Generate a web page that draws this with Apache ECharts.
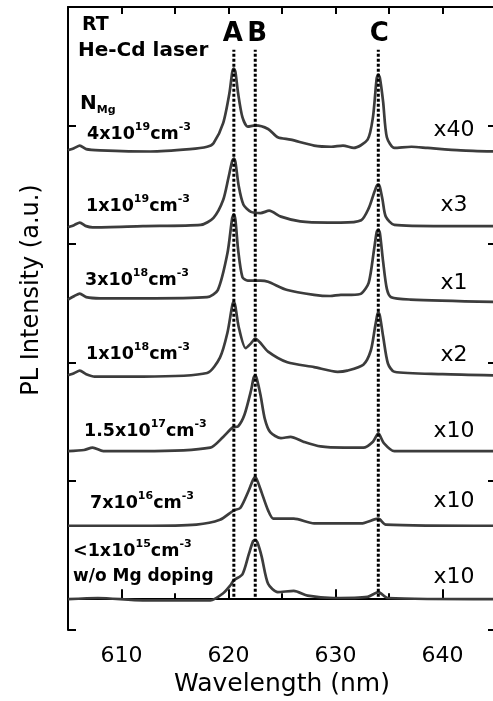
<!DOCTYPE html>
<html>
<head>
<meta charset="utf-8">
<script src="https://cdn.jsdelivr.net/npm/echarts@6/dist/echarts.min.js"></script>
<style>
  html, body { margin: 0; padding: 0; background: #fff; }
  #chart { width: 493px; height: 701px; }
</style>
</head>
<body>
<div id="chart"></div>
<script>
// PL spectra, [wavelength nm, stacked intensity a.u.], top to bottom
const pl4e19 = [
  [605.0, 3.79], [605.6, 3.81], [606.1, 3.83], [606.7, 3.80], [608.0, 3.79], [612.7, 3.78],
  [616.4, 3.80], [618.0, 3.82], [618.6, 3.85], [619.5, 4.02], [620.1, 4.28], [620.35, 4.45],
  [620.5, 4.48], [620.65, 4.45], [620.9, 4.27], [621.3, 4.07], [621.8, 3.99], [622.5, 4.00],
  [623.7, 3.97], [624.6, 3.90], [625.8, 3.88], [628.0, 3.83], [629.6, 3.82], [630.7, 3.83],
  [631.7, 3.81], [633.0, 3.88], [633.5, 4.07], [633.85, 4.40], [634.0, 4.43], [634.15, 4.40],
  [634.45, 4.20], [634.8, 3.90], [635.5, 3.81], [637.1, 3.82], [638.6, 3.81], [641.7, 3.79],
  [645.0, 3.78]
]
const pl1e19 = [
  [605.0, 3.14], [605.6, 3.16], [606.1, 3.18], [606.7, 3.15], [607.3, 3.14], [612.0, 3.15],
  [617.4, 3.16], [618.6, 3.22], [619.5, 3.37], [620.0, 3.56], [620.35, 3.70], [620.5, 3.72],
  [620.65, 3.69], [620.95, 3.49], [621.4, 3.33], [622.1, 3.27], [623.0, 3.26], [623.8, 3.28],
  [624.9, 3.23], [626.7, 3.19], [629.3, 3.18], [630.5, 3.18], [632.4, 3.20], [633.1, 3.30],
  [633.6, 3.43], [633.85, 3.49], [634.0, 3.50], [634.15, 3.48], [634.4, 3.37], [634.7, 3.23],
  [635.5, 3.16], [640.0, 3.15], [645.0, 3.15]
]
const pl3e18 = [
  [605.0, 2.53], [605.6, 2.56], [606.1, 2.58], [606.7, 2.55], [608.0, 2.54], [612.0, 2.54],
  [618.0, 2.55], [619.0, 2.61], [619.9, 2.92], [620.35, 3.22], [620.5, 3.25], [620.65, 3.20],
  [620.9, 2.95], [621.3, 2.72], [621.8, 2.69], [623.0, 2.69], [623.7, 2.68], [625.5, 2.61],
  [628.0, 2.57], [629.5, 2.56], [630.5, 2.57], [631.5, 2.57], [632.4, 2.58], [633.1, 2.67],
  [633.6, 2.95], [633.85, 3.10], [634.0, 3.12], [634.15, 3.09], [634.45, 2.85], [634.8, 2.62],
  [635.2, 2.55], [637.0, 2.53], [645.0, 2.51]
]
const pl1e18 = [
  [605.0, 1.89], [605.6, 1.91], [606.1, 1.93], [606.7, 1.90], [607.5, 1.88], [612.0, 1.88],
  [618.0, 1.91], [619.2, 2.04], [619.9, 2.25], [620.35, 2.48], [620.5, 2.51], [620.65, 2.47],
  [620.95, 2.30], [621.6, 2.12], [622.1, 2.16], [622.5, 2.20], [623.7, 2.09], [625.5, 2.00],
  [628.0, 1.96], [630.2, 1.92], [631.1, 1.93], [632.6, 1.98], [633.3, 2.10], [633.7, 2.30],
  [633.9, 2.40], [634.0, 2.42], [634.15, 2.39], [634.45, 2.22], [634.9, 1.99], [635.5, 1.92],
  [640.0, 1.90], [645.0, 1.89]
]
const pl15e17 = [
  [605.0, 1.25], [606.5, 1.26], [607.3, 1.28], [608.3, 1.25], [612.0, 1.25], [618.3, 1.28],
  [619.5, 1.37], [620.4, 1.45], [620.9, 1.46], [621.5, 1.56], [622.1, 1.76], [622.35, 1.87],
  [622.5, 1.89], [622.65, 1.86], [623.0, 1.72], [623.4, 1.52], [623.9, 1.41], [624.9, 1.36],
  [625.8, 1.37], [627.0, 1.33], [628.6, 1.29], [630.8, 1.28], [632.6, 1.28], [633.5, 1.33],
  [634.0, 1.40], [634.5, 1.32], [635.5, 1.25], [645.0, 1.25]
]
const pl7e16 = [
  [605.0, 0.62], [612.0, 0.62], [617.0, 0.63], [619.2, 0.67], [620.5, 0.75], [621.1, 0.77],
  [621.9, 0.92], [622.3, 1.01], [622.5, 1.03], [622.7, 1.00], [623.1, 0.90], [623.7, 0.75],
  [624.2, 0.68], [626.1, 0.68], [628.0, 0.64], [632.4, 0.64], [634.0, 0.68], [634.7, 0.63],
  [645.0, 0.62]
]
const pl1e15 = [
  [605.0, 0.00], [607.8, 0.01], [612.0, -0.01], [618.3, -0.01], [619.5, 0.05], [620.2, 0.12],
  [620.5, 0.16], [621.3, 0.21], [621.9, 0.38], [622.3, 0.49], [622.5, 0.50], [622.7, 0.48],
  [623.1, 0.36], [623.7, 0.13], [624.6, 0.06], [626.1, 0.07], [627.4, 0.03], [629.8, 0.01],
  [633.0, 0.02], [634.0, 0.06], [634.9, 0.01], [645.0, 0.00]
]

const spectra = [pl4e19, pl1e19, pl3e18, pl1e18, pl15e17, pl7e16, pl1e15]
// N_Mg: mantissa, exponent
const dopingMantissa = ['4', '1', '3', '1', '1.5', '7', '<1']
const dopingExponent = ['19', '19', '18', '18', '17', '16', '15']
const scaleLabels = ['x40', 'x3', 'x1', 'x2', 'x10', 'x10', 'x10']

const peakNames = ['A', 'B', 'C']
const peakWavelengths = [620.5, 622.5, 634.0]
const guideBottom = 0.02
const guideTop = 4.64

const FONT = 'DejaVu Sans'
const chart = echarts.init(document.getElementById('chart'))

// pixel rows of the annotation text (layout only)
const labelRows = [134, 206, 280, 354, 431, 503, 551]
const labelLefts = [87, 86, 85, 86, 84, 90, 73]
const scaleRows = [130, 205, 283, 355, 431, 501, 577]

const richStyles = {
  m: { fontFamily: FONT, fontWeight: 'bold', fontSize: 17.5, lineHeight: 24, fill: '#000' },
  s: { fontFamily: FONT, fontWeight: 'bold', fontSize: 11, lineHeight: 10, verticalAlign: 'top', fill: '#000' },
  n: { fontFamily: FONT, fontWeight: 'bold', fontSize: 20, lineHeight: 24, fill: '#000' },
  sub: { fontFamily: FONT, fontWeight: 'bold', fontSize: 11, lineHeight: 10, verticalAlign: 'bottom', fill: '#000' }
}

function boldText(x, y, text, size, align) {
  return {
    type: 'text', x, y, silent: true, z: 10,
    style: { text, fill: '#000', font: `bold ${size}px "${FONT}"`, align: align || 'left', verticalAlign: 'middle' }
  }
}

const graphics = [
  boldText(82, 25, 'RT', 19),
  boldText(78, 51, 'He-Cd laser', 20),
  {
    type: 'text', x: 80, y: 104, silent: true, z: 10,
    style: { text: '{n|N}{sub|Mg}', rich: richStyles, align: 'left', verticalAlign: 'middle' }
  },
  boldText(73, 577, 'w/o Mg doping', 17)
]

dopingMantissa.forEach((m, i) => {
  graphics.push({
    type: 'text', x: labelLefts[i], y: labelRows[i], silent: true, z: 10,
    style: {
      text: `{m|${m}x10}{s|${dopingExponent[i]}}{m|cm}{s|-3}`,
      rich: richStyles, align: 'left', verticalAlign: 'middle'
    }
  })
})

scaleLabels.forEach((t, i) => {
  graphics.push({
    type: 'text', x: 454, y: scaleRows[i], silent: true, z: 10,
    style: { text: t, fill: '#000', font: `22px "${FONT}"`, align: 'center', verticalAlign: 'middle' }
  })
})

const axisLine = { show: true, lineStyle: { color: '#000', width: 2 } }

chart.setOption({
  animation: false,
  grid: { left: 68, width: 428, top: 7, height: 623, containLabel: false, outerBoundsMode: 'none' },
  xAxis: [
    {
      type: 'value', position: 'bottom', min: 605, max: 645, interval: 5,
      name: 'Wavelength (nm)', nameLocation: 'middle', nameGap: 41,
      nameTextStyle: { fontFamily: FONT, fontSize: 25, color: '#000' },
      axisLine,
      axisTick: { inside: true, length: 6, lineStyle: { color: '#000', width: 2 } },
      axisLabel: {
        margin: 15, fontFamily: FONT, fontSize: 22, color: '#000',
        formatter: (v) => (v % 10 === 0 ? String(v) : '')
      },
      splitLine: { show: false }
    },
    {
      type: 'value', position: 'bottom', min: 605, max: 645, splitNumber: 4,
      axisLine: { show: false },
      axisTick: { inside: true, length: 10, lineStyle: { color: '#000', width: 2 } },
      axisLabel: { show: false },
      splitLine: { show: false }
    },
    {
      type: 'value', position: 'top', min: 605, max: 645, interval: 5,
      axisLine,
      axisTick: { inside: true, length: 7, lineStyle: { color: '#000', width: 2 } },
      axisLabel: { show: false },
      splitLine: { show: false }
    }
  ],
  yAxis: [
    {
      type: 'value', position: 'left', min: -0.26, max: 5, splitNumber: 5,
      name: 'PL Intensity (a.u.)', nameLocation: 'middle', nameGap: 24,
      nameTextStyle: { fontFamily: FONT, fontSize: 24, color: '#000', padding: [0, 0, 0, 57] },
      axisLine,
      axisTick: { inside: true, length: 8, lineStyle: { color: '#000', width: 2 } },
      axisLabel: { show: false },
      splitLine: { show: false }
    },
    {
      type: 'value', position: 'right', min: -0.26, max: 5, splitNumber: 5,
      axisLine,
      axisTick: { inside: true, length: 8, lineStyle: { color: '#000', width: 2 } },
      axisLabel: { show: false },
      splitLine: { show: false }
    }
  ],
  series: [
    ...spectra.map((data) => ({
      type: 'line',
      data,
      symbol: 'none',
      smooth: 0.25,
      silent: true,
      z: 2,
      lineStyle: { color: '#3c3c3c', width: 2.7 }
    })),
    ...peakWavelengths.map((x) => ({
      type: 'line',
      data: [[x, guideBottom], [x, guideTop]],
      symbol: 'none',
      silent: true,
      z: 3,
      lineStyle: { color: '#000', width: 3, type: [3, 2] }
    }))
  ],
  graphic: graphics
})

// peak letters sit just above the dotted guides, placed through the axes
peakNames.forEach((n, i) => {
  const [px, py] = chart.convertToPixel({ xAxisIndex: 0, yAxisIndex: 0 }, [peakWavelengths[i], guideTop])
  graphics.push({
    type: 'text', x: px + (i === 0 ? -1 : i === 1 ? 2 : 1), y: py - 2, silent: true, z: 10,
    style: { text: n, fill: '#000', font: `bold 26px "${FONT}"`, align: 'center', verticalAlign: 'bottom' }
  })
})
chart.setOption({ graphic: graphics })
</script>
</body>
</html>
